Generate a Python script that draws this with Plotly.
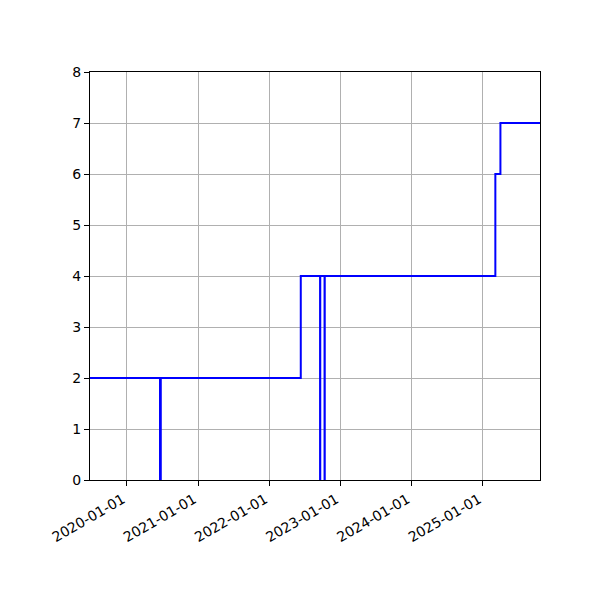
import plotly.graph_objects as go

# step changes (value holds until the next date)
dates = ["2019-06-27", "2020-06-20", "2020-06-24", "2022-06-12", "2022-09-19",
         "2022-09-20", "2022-10-12", "2022-10-13", "2025-03-06", "2025-04-01",
         "2025-10-21"]
values = [2, 0, 2, 4, 0, 4, 0, 4, 6, 7, 7]

tick_dates = ["2020-01-01", "2021-01-01", "2022-01-01", "2023-01-01", "2024-01-01", "2025-01-01"]
y_ticks = [0, 1, 2, 3, 4, 5, 6, 7, 8]

fig = go.Figure()
fig.add_trace(go.Scatter(
    x=dates,
    y=values,
    mode="lines",
    line={"shape": "hv", "color": "#0000ff", "width": 2},
    showlegend=False,
))

axis_style = {
    "showline": True,
    "linecolor": "black",
    "linewidth": 1,
    "mirror": True,
    "showgrid": True,
    "gridcolor": "#b0b0b0",
    "gridwidth": 1,
    "zeroline": False,
    "ticks": "outside",
    "ticklen": 5,
    "tickcolor": "black",
    "tickfont": {"family": "DejaVu Sans", "size": 14, "color": "black"},
    "layer": "above traces",
}

# page body adds an 8px offset, so margins are shifted to compensate
fig.update_layout(
    width=600,
    height=600,
    paper_bgcolor="white",
    plot_bgcolor="white",
    margin={"l": 82, "r": 68, "t": 64, "b": 128, "autoexpand": False},
)
fig.update_xaxes(
    range=[dates[0], dates[-1]],
    tickvals=tick_dates,
    ticktext=tick_dates,
    tickangle=-30,
    ticklabelshift=-4,
    **axis_style,
)
fig.update_yaxes(
    range=[0, 8],
    tickvals=y_ticks,
    **axis_style,
)

fig.write_html("out.html")
